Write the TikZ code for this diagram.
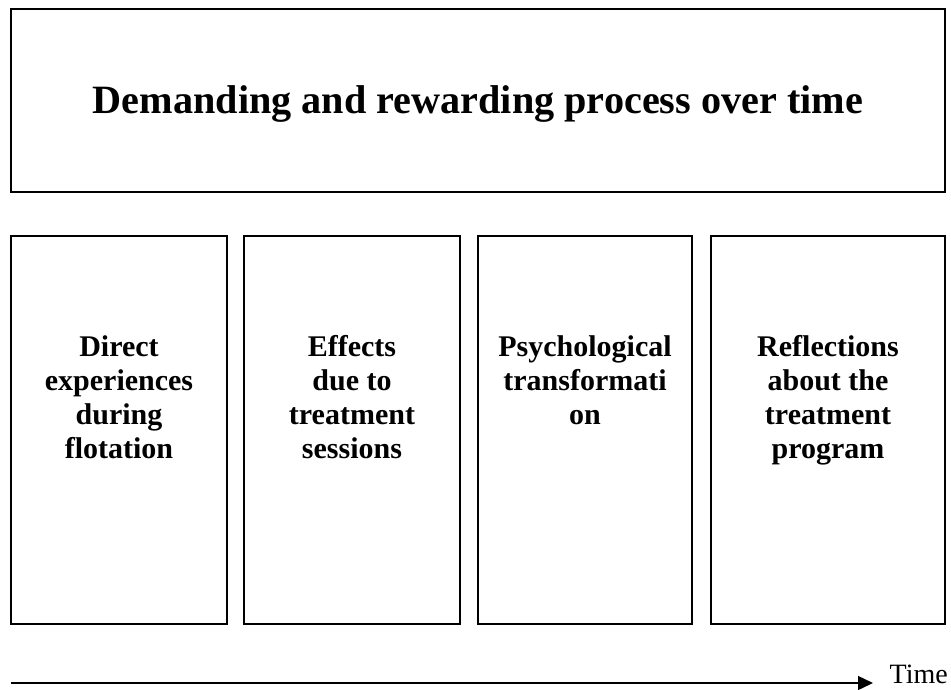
\documentclass[tikz,border=0pt]{standalone}
\usepackage{fontspec}
\setmainfont{Liberation Serif}
\usetikzlibrary{arrows.meta}
\begin{document}
\begin{tikzpicture}[x=1pt,y=-1pt,
  boxst/.style={draw=black,line width=1.6pt,inner sep=0pt,rectangle},
  lbl/.style={align=center,inner sep=0pt,font=\bfseries\fontsize{30}{34}\selectfont},
  ttl/.style={inner sep=0pt,font=\bfseries\fontsize{40.2}{46}\selectfont},
  arr/.style={line width=1.4pt,-{Triangle[length=15pt,width=14pt]}}]
\useasboundingbox (0,0) rectangle (951,689);
% title box
\node[boxst,minimum width=934pt,minimum height=183pt] (top) at (478,100.5) {};
\node[ttl,anchor=base] (title) at (478,113) {Demanding and rewarding process over time};
% four boxes
\node[boxst,minimum width=216pt,minimum height=388pt] (b1) at (119,430) {};
\node[boxst,minimum width=216pt,minimum height=388pt] (b2) at (352,430) {};
\node[boxst,minimum width=214pt,minimum height=388pt] (b3) at (585,430) {};
\node[boxst,minimum width=234pt,minimum height=388pt] (b4) at (828,430) {};
\node[lbl,anchor=north] (t1) at (119,335) {Direct\\experiences\\during\\flotation};
\node[lbl,anchor=north] (t2) at (352,335) {Effects\\due to\\treatment\\sessions};
\node[lbl,anchor=north] (t3) at (585,335) {Psychological\\transformati\\on};
\node[lbl,anchor=north] (t4) at (828,335) {Reflections\\about the\\treatment\\program};
% time arrow
\coordinate (as) at (11,683);
\coordinate (ae) at (873,683);
\node[anchor=base east,inner sep=0pt,font=\fontsize{28}{32}\selectfont] (time) at (948,683) {Time};
\draw[arr] (as) -- (ae);
\end{tikzpicture}
\end{document}
